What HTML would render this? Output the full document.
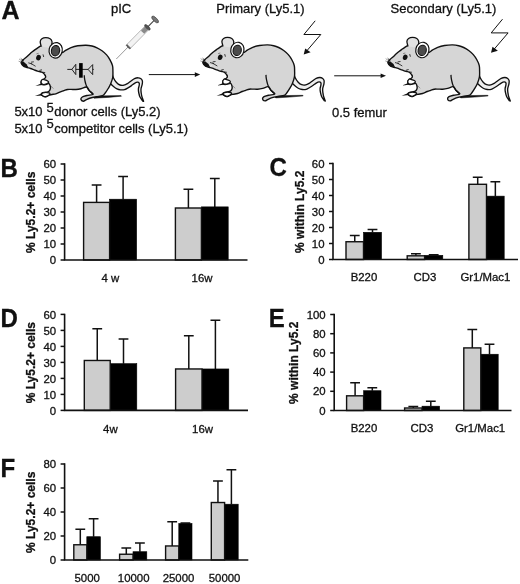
<!DOCTYPE html>
<html><head><meta charset="utf-8"><title>figure</title>
<style>html,body{margin:0;padding:0;background:#fff}svg{display:block;filter:grayscale(1)}text{font-family:"Liberation Sans", sans-serif;fill:#111;stroke:#111;stroke-width:0.3px}</style>
</head><body>
<svg width="520" height="584" viewBox="0 0 520 584">
<rect width="520" height="584" fill="#fff"/>
<text x="1.4" y="19.1" font-size="25" font-weight="bold">A</text>
<text x="111" y="12.6" font-size="13">pIC</text>
<text x="216.3" y="12.6" font-size="13">Primary (Ly5.1)</text>
<text x="390.6" y="12.6" font-size="13">Secondary (Ly5.1)</text>
<text x="14.4" y="116.4" font-size="13">5x10</text>
<text x="46.6" y="111.7" font-size="13">5</text>
<text x="54.2" y="116.4" font-size="13">donor cells (Ly5.2)</text>
<text x="14.4" y="132.6" font-size="13">5x10</text>
<text x="46.6" y="128.2" font-size="13">5</text>
<text x="54.2" y="132.6" font-size="13">competitor cells (Ly5.1)</text>
<text x="332" y="116.8" font-size="13">0.5 femur</text>
<g><path d="M111.50 72.00 C111.83 73.00 112.67 76.25 113.50 78.00 C114.33 79.75 115.42 81.33 116.50 82.50 C117.58 83.67 118.75 84.55 120.00 85.00 C121.25 85.45 122.75 85.43 124.00 85.20 C125.25 84.97 126.33 84.30 127.50 83.60 C128.67 82.90 129.83 81.83 131.00 81.00 C132.17 80.17 133.30 79.13 134.50 78.60 C135.70 78.07 137.12 77.77 138.20 77.80 C139.28 77.83 140.30 78.27 141.00 78.80 C141.70 79.33 142.20 80.07 142.40 81.00 C142.60 81.93 142.43 83.07 142.20 84.40 C141.97 85.73 141.17 87.57 141.00 89.00 C140.83 90.43 141.03 91.67 141.20 93.00 C141.37 94.33 141.60 95.62 142.00 97.00 C142.40 98.38 143.33 100.58 143.60 101.30 L142.60 101.00 C142.17 100.33 140.63 98.33 140.00 97.00 C139.37 95.67 139.07 94.33 138.80 93.00 C138.53 91.67 138.33 90.27 138.40 89.00 C138.47 87.73 139.07 86.37 139.20 85.40 C139.33 84.43 139.50 83.73 139.20 83.20 C138.90 82.67 138.18 82.17 137.40 82.20 C136.62 82.23 135.48 82.83 134.50 83.40 C133.52 83.97 132.58 84.87 131.50 85.60 C130.42 86.33 129.17 87.13 128.00 87.80 C126.83 88.47 125.75 89.27 124.50 89.60 C123.25 89.93 121.75 89.93 120.50 89.80 C119.25 89.67 118.17 89.37 117.00 88.80 C115.83 88.23 114.67 87.37 113.50 86.40 C112.33 85.43 110.75 84.07 110.00 83.00 C109.25 81.93 109.17 80.50 109.00 80.00Z" fill="#ededed" stroke="#111" stroke-width="1.35" stroke-linejoin="round"/>
<path d="M92 96.0 L121 95.6 L121.5 96.2 L108 97.4 L94 98.2 Z" fill="#111" stroke="#111" stroke-width="0.5"/>
<path d="M21.20 62.40 C21.44 61.43 22.53 60.59 23.50 59.60 C24.47 58.61 25.44 57.95 26.50 57.00 C27.56 56.05 28.24 55.35 29.30 54.40 C30.36 53.45 31.22 52.68 32.30 51.80 C33.38 50.92 34.14 50.37 35.20 49.60 C36.26 48.83 37.04 48.28 38.10 47.60 C39.16 46.92 39.73 46.41 41.00 45.90 C42.27 45.39 43.53 45.07 45.00 44.80 C46.47 44.52 47.53 44.44 49.00 44.40 C50.47 44.36 51.35 44.12 53.00 44.60 C54.65 45.08 56.44 45.73 58.00 47.00 C59.56 48.27 60.66 50.47 61.50 51.50 C62.34 52.53 61.77 52.84 62.60 52.60 C63.43 52.36 64.46 51.12 66.00 50.20 C67.54 49.28 68.84 48.41 71.00 47.60 C73.16 46.79 75.05 46.24 77.80 45.80 C80.55 45.36 83.40 45.16 86.00 45.20 C88.60 45.24 89.98 45.52 92.00 46.00 C94.02 46.48 95.17 46.92 97.00 47.80 C98.83 48.68 100.24 49.50 102.00 50.80 C103.76 52.10 105.13 53.25 106.60 54.90 C108.07 56.55 108.92 57.84 110.00 59.80 C111.08 61.76 111.97 63.53 112.50 65.60 C113.03 67.67 112.86 68.92 112.90 71.10 C112.94 73.28 113.12 75.14 112.70 77.50 C112.28 79.86 111.42 81.98 110.60 84.00 C109.77 86.02 109.19 86.85 108.20 88.50 C107.21 90.15 106.25 91.70 105.20 93.00 C104.16 94.30 104.13 94.92 102.50 95.60 C100.87 96.28 98.50 96.26 96.30 96.70 C94.10 97.14 92.39 97.41 90.50 98.00 C88.61 98.59 87.32 99.31 86.00 99.90 C84.68 100.49 84.23 101.29 83.30 101.20 C82.36 101.11 81.08 100.17 80.90 99.40 C80.72 98.63 81.20 97.72 82.30 97.00 C83.40 96.28 84.94 96.00 86.90 95.50 C88.86 95.00 92.56 95.20 93.00 94.30 C93.44 93.40 90.47 91.94 89.30 90.60 C88.13 89.26 88.12 87.35 86.60 87.00 C85.08 86.65 82.94 88.24 81.00 88.70 C79.06 89.16 77.83 89.37 76.00 89.50 C74.17 89.63 72.56 89.40 71.00 89.40 C69.44 89.40 68.78 89.28 67.50 89.50 C66.22 89.72 65.28 90.18 64.00 90.60 C62.72 91.02 62.00 91.21 60.50 91.80 C59.00 92.39 57.36 93.30 55.80 93.80 C54.24 94.30 53.25 94.26 52.00 94.50 C50.75 94.74 49.95 94.75 49.00 95.10 C48.05 95.45 47.53 96.07 46.80 96.40 C46.07 96.73 45.73 96.97 45.00 96.90 C44.27 96.83 43.50 96.46 42.80 96.00 C42.10 95.54 41.27 94.97 41.20 94.40 C41.13 93.83 41.57 93.29 42.40 92.90 C43.23 92.52 44.49 92.61 45.70 92.30 C46.91 91.99 48.14 91.88 49.00 91.20 C49.86 90.52 50.18 89.55 50.40 88.60 C50.62 87.65 50.46 86.92 50.20 86.00 C49.94 85.08 49.66 83.93 49.00 83.60 C48.34 83.27 47.59 83.96 46.60 84.20 C45.61 84.44 44.52 84.88 43.60 84.90 C42.68 84.92 42.08 84.80 41.60 84.30 C41.12 83.80 40.89 82.99 41.00 82.20 C41.11 81.41 41.61 80.62 42.20 80.00 C42.79 79.38 43.58 79.28 44.20 78.80 C44.82 78.32 45.42 78.02 45.60 77.40 C45.78 76.78 45.64 76.21 45.20 75.40 C44.76 74.59 43.97 73.62 43.20 73.00 C42.43 72.38 42.05 72.35 41.00 72.00 C39.95 71.65 38.75 71.48 37.50 71.10 C36.25 70.71 35.48 70.38 34.20 69.90 C32.92 69.42 31.73 68.92 30.50 68.50 C29.27 68.08 28.66 67.95 27.50 67.60 C26.34 67.25 25.17 67.09 24.20 66.60 C23.23 66.10 22.75 65.67 22.20 64.90 C21.65 64.13 20.96 63.37 21.20 62.40Z" fill="#d6d6d6" stroke="#111" stroke-width="1.4" stroke-linejoin="round"/>
<path d="M41.30 46.60 C41.12 45.78 40.10 43.00 40.20 41.70 C40.30 40.40 40.97 39.47 41.90 38.80 C42.83 38.13 44.43 37.70 45.80 37.70 C47.17 37.70 49.07 38.13 50.10 38.80 C51.13 39.47 51.75 40.58 52.00 41.70 C52.25 42.82 51.85 44.45 51.60 45.50 C51.35 46.55 50.68 47.58 50.50 48.00" fill="#e2e2e2" stroke="none"/>
<path d="M41.30 46.60 C41.12 45.78 40.10 43.00 40.20 41.70 C40.30 40.40 40.97 39.47 41.90 38.80 C42.83 38.13 44.43 37.70 45.80 37.70 C47.17 37.70 49.07 38.13 50.10 38.80 C51.13 39.47 51.75 40.58 52.00 41.70 C52.25 42.82 51.85 44.45 51.60 45.50 C51.35 46.55 50.68 47.58 50.50 48.00" fill="none" stroke="#111" stroke-width="1.3"/>
<path d="M41.6 83.2 L35.4 85.9 L42.2 85.0 Z" fill="#111"/>
<path d="M41.6 93.4 L34.9 96.0 L42.4 95.4 Z" fill="#111"/>
<path d="M42.30 79.50 C42.95 79.10 44.12 79.67 45.00 79.90 C45.88 80.13 46.98 80.50 47.60 80.90 C48.22 81.30 48.87 81.82 48.70 82.30 C48.53 82.78 47.57 83.45 46.60 83.80 C45.63 84.15 43.82 84.65 42.90 84.40 C41.98 84.15 41.20 83.12 41.10 82.30 C41.00 81.48 41.65 79.90 42.30 79.50Z" fill="#fff" stroke="#111" stroke-width="1.2" stroke-linejoin="round"/>
<path d="M45.70 92.50 C46.73 92.50 48.32 92.60 49.00 92.90 C49.68 93.20 50.35 93.68 49.80 94.30 C49.25 94.92 46.87 96.37 45.70 96.60 C44.53 96.83 43.52 96.08 42.80 95.70 C42.08 95.32 41.40 94.77 41.40 94.30 C41.40 93.83 42.08 93.20 42.80 92.90 C43.52 92.60 44.67 92.50 45.70 92.50Z" fill="#fff" stroke="#111" stroke-width="1.2" stroke-linejoin="round"/>
<path d="M84.30 75.20 C84.32 75.58 84.28 76.53 84.40 77.50 C84.52 78.47 84.75 79.85 85.00 81.00 C85.25 82.15 85.53 83.30 85.90 84.40 C86.27 85.50 86.65 86.57 87.20 87.60 C87.75 88.63 88.47 89.70 89.20 90.60 C89.93 91.50 90.90 92.37 91.60 93.00 C92.30 93.63 93.10 94.17 93.40 94.40" fill="none" stroke="#111" stroke-width="1.3"/>
<path d="M50.4 85.5 L53.4 88.6" fill="none" stroke="#555" stroke-width="0.6"/>
<ellipse cx="55.7" cy="50.3" rx="6.6" ry="7.8" transform="rotate(12 55.7 50.3)" fill="#fff" stroke="#111" stroke-width="1.2"/>
<ellipse cx="55.5" cy="50.7" rx="4.1" ry="5.2" transform="rotate(12 55.5 50.7)" fill="#4c4c4c" stroke="#111" stroke-width="1.1"/>
<ellipse cx="38.5" cy="57.6" rx="2.3" ry="2.8" transform="rotate(20 38.5 57.6)" fill="#111"/>
<path d="M43.0 54.4 L43.7 57.0" stroke="#111" stroke-width="0.8" fill="none"/>
<path d="M36.4 53.9 L38.6 53.3" stroke="#333" stroke-width="0.5" fill="none"/>
<path d="M20.6 62.0 L23.4 61.6 L26.8 64.4 L28.4 67.4 L24.4 66.8 L22.0 65.0Z" fill="#111"/>
<path d="M28.3 62.8 L32.2 64.0 M30.8 63.4 L35.6 66.3 M31.0 62.2 L33.8 61.8" stroke="#111" stroke-width="0.8" fill="none"/>
<path d="M27.4 65.0 L30.4 66.0" stroke="#eee" stroke-width="0.8" fill="none"/>
<path d="M19.0 58.9 L22.4 61.4 M20.6 58.2 L23.4 60.8 M18.6 61.2 L21.4 62.2" stroke="#555" stroke-width="0.55" fill="none"/>
<path d="M21.6 58.6 L23.8 61.0 L22.2 61.4 Z" fill="#111"/>
<path d="M39.5 70.4 L42.0 69.8 M42.4 72.2 L45.2 72.6 M44.2 74.6 L46.0 75.8" stroke="#111" stroke-width="0.8" fill="none"/></g>
<g transform="translate(181.7 -0.3)"><path d="M111.50 72.00 C111.83 73.00 112.67 76.25 113.50 78.00 C114.33 79.75 115.42 81.33 116.50 82.50 C117.58 83.67 118.75 84.55 120.00 85.00 C121.25 85.45 122.75 85.43 124.00 85.20 C125.25 84.97 126.33 84.30 127.50 83.60 C128.67 82.90 129.83 81.83 131.00 81.00 C132.17 80.17 133.30 79.13 134.50 78.60 C135.70 78.07 137.12 77.77 138.20 77.80 C139.28 77.83 140.30 78.27 141.00 78.80 C141.70 79.33 142.20 80.07 142.40 81.00 C142.60 81.93 142.43 83.07 142.20 84.40 C141.97 85.73 141.17 87.57 141.00 89.00 C140.83 90.43 141.03 91.67 141.20 93.00 C141.37 94.33 141.60 95.62 142.00 97.00 C142.40 98.38 143.33 100.58 143.60 101.30 L142.60 101.00 C142.17 100.33 140.63 98.33 140.00 97.00 C139.37 95.67 139.07 94.33 138.80 93.00 C138.53 91.67 138.33 90.27 138.40 89.00 C138.47 87.73 139.07 86.37 139.20 85.40 C139.33 84.43 139.50 83.73 139.20 83.20 C138.90 82.67 138.18 82.17 137.40 82.20 C136.62 82.23 135.48 82.83 134.50 83.40 C133.52 83.97 132.58 84.87 131.50 85.60 C130.42 86.33 129.17 87.13 128.00 87.80 C126.83 88.47 125.75 89.27 124.50 89.60 C123.25 89.93 121.75 89.93 120.50 89.80 C119.25 89.67 118.17 89.37 117.00 88.80 C115.83 88.23 114.67 87.37 113.50 86.40 C112.33 85.43 110.75 84.07 110.00 83.00 C109.25 81.93 109.17 80.50 109.00 80.00Z" fill="#ededed" stroke="#111" stroke-width="1.35" stroke-linejoin="round"/>
<path d="M92 96.0 L121 95.6 L121.5 96.2 L108 97.4 L94 98.2 Z" fill="#111" stroke="#111" stroke-width="0.5"/>
<path d="M21.20 62.40 C21.44 61.43 22.53 60.59 23.50 59.60 C24.47 58.61 25.44 57.95 26.50 57.00 C27.56 56.05 28.24 55.35 29.30 54.40 C30.36 53.45 31.22 52.68 32.30 51.80 C33.38 50.92 34.14 50.37 35.20 49.60 C36.26 48.83 37.04 48.28 38.10 47.60 C39.16 46.92 39.73 46.41 41.00 45.90 C42.27 45.39 43.53 45.07 45.00 44.80 C46.47 44.52 47.53 44.44 49.00 44.40 C50.47 44.36 51.35 44.12 53.00 44.60 C54.65 45.08 56.44 45.73 58.00 47.00 C59.56 48.27 60.66 50.47 61.50 51.50 C62.34 52.53 61.77 52.84 62.60 52.60 C63.43 52.36 64.46 51.12 66.00 50.20 C67.54 49.28 68.84 48.41 71.00 47.60 C73.16 46.79 75.05 46.24 77.80 45.80 C80.55 45.36 83.40 45.16 86.00 45.20 C88.60 45.24 89.98 45.52 92.00 46.00 C94.02 46.48 95.17 46.92 97.00 47.80 C98.83 48.68 100.24 49.50 102.00 50.80 C103.76 52.10 105.13 53.25 106.60 54.90 C108.07 56.55 108.92 57.84 110.00 59.80 C111.08 61.76 111.97 63.53 112.50 65.60 C113.03 67.67 112.86 68.92 112.90 71.10 C112.94 73.28 113.12 75.14 112.70 77.50 C112.28 79.86 111.42 81.98 110.60 84.00 C109.77 86.02 109.19 86.85 108.20 88.50 C107.21 90.15 106.25 91.70 105.20 93.00 C104.16 94.30 104.13 94.92 102.50 95.60 C100.87 96.28 98.50 96.26 96.30 96.70 C94.10 97.14 92.39 97.41 90.50 98.00 C88.61 98.59 87.32 99.31 86.00 99.90 C84.68 100.49 84.23 101.29 83.30 101.20 C82.36 101.11 81.08 100.17 80.90 99.40 C80.72 98.63 81.20 97.72 82.30 97.00 C83.40 96.28 84.94 96.00 86.90 95.50 C88.86 95.00 92.56 95.20 93.00 94.30 C93.44 93.40 90.47 91.94 89.30 90.60 C88.13 89.26 88.12 87.35 86.60 87.00 C85.08 86.65 82.94 88.24 81.00 88.70 C79.06 89.16 77.83 89.37 76.00 89.50 C74.17 89.63 72.56 89.40 71.00 89.40 C69.44 89.40 68.78 89.28 67.50 89.50 C66.22 89.72 65.28 90.18 64.00 90.60 C62.72 91.02 62.00 91.21 60.50 91.80 C59.00 92.39 57.36 93.30 55.80 93.80 C54.24 94.30 53.25 94.26 52.00 94.50 C50.75 94.74 49.95 94.75 49.00 95.10 C48.05 95.45 47.53 96.07 46.80 96.40 C46.07 96.73 45.73 96.97 45.00 96.90 C44.27 96.83 43.50 96.46 42.80 96.00 C42.10 95.54 41.27 94.97 41.20 94.40 C41.13 93.83 41.57 93.29 42.40 92.90 C43.23 92.52 44.49 92.61 45.70 92.30 C46.91 91.99 48.14 91.88 49.00 91.20 C49.86 90.52 50.18 89.55 50.40 88.60 C50.62 87.65 50.46 86.92 50.20 86.00 C49.94 85.08 49.66 83.93 49.00 83.60 C48.34 83.27 47.59 83.96 46.60 84.20 C45.61 84.44 44.52 84.88 43.60 84.90 C42.68 84.92 42.08 84.80 41.60 84.30 C41.12 83.80 40.89 82.99 41.00 82.20 C41.11 81.41 41.61 80.62 42.20 80.00 C42.79 79.38 43.58 79.28 44.20 78.80 C44.82 78.32 45.42 78.02 45.60 77.40 C45.78 76.78 45.64 76.21 45.20 75.40 C44.76 74.59 43.97 73.62 43.20 73.00 C42.43 72.38 42.05 72.35 41.00 72.00 C39.95 71.65 38.75 71.48 37.50 71.10 C36.25 70.71 35.48 70.38 34.20 69.90 C32.92 69.42 31.73 68.92 30.50 68.50 C29.27 68.08 28.66 67.95 27.50 67.60 C26.34 67.25 25.17 67.09 24.20 66.60 C23.23 66.10 22.75 65.67 22.20 64.90 C21.65 64.13 20.96 63.37 21.20 62.40Z" fill="#d6d6d6" stroke="#111" stroke-width="1.4" stroke-linejoin="round"/>
<path d="M41.30 46.60 C41.12 45.78 40.10 43.00 40.20 41.70 C40.30 40.40 40.97 39.47 41.90 38.80 C42.83 38.13 44.43 37.70 45.80 37.70 C47.17 37.70 49.07 38.13 50.10 38.80 C51.13 39.47 51.75 40.58 52.00 41.70 C52.25 42.82 51.85 44.45 51.60 45.50 C51.35 46.55 50.68 47.58 50.50 48.00" fill="#e2e2e2" stroke="none"/>
<path d="M41.30 46.60 C41.12 45.78 40.10 43.00 40.20 41.70 C40.30 40.40 40.97 39.47 41.90 38.80 C42.83 38.13 44.43 37.70 45.80 37.70 C47.17 37.70 49.07 38.13 50.10 38.80 C51.13 39.47 51.75 40.58 52.00 41.70 C52.25 42.82 51.85 44.45 51.60 45.50 C51.35 46.55 50.68 47.58 50.50 48.00" fill="none" stroke="#111" stroke-width="1.3"/>
<path d="M41.6 83.2 L35.4 85.9 L42.2 85.0 Z" fill="#111"/>
<path d="M41.6 93.4 L34.9 96.0 L42.4 95.4 Z" fill="#111"/>
<path d="M42.30 79.50 C42.95 79.10 44.12 79.67 45.00 79.90 C45.88 80.13 46.98 80.50 47.60 80.90 C48.22 81.30 48.87 81.82 48.70 82.30 C48.53 82.78 47.57 83.45 46.60 83.80 C45.63 84.15 43.82 84.65 42.90 84.40 C41.98 84.15 41.20 83.12 41.10 82.30 C41.00 81.48 41.65 79.90 42.30 79.50Z" fill="#fff" stroke="#111" stroke-width="1.2" stroke-linejoin="round"/>
<path d="M45.70 92.50 C46.73 92.50 48.32 92.60 49.00 92.90 C49.68 93.20 50.35 93.68 49.80 94.30 C49.25 94.92 46.87 96.37 45.70 96.60 C44.53 96.83 43.52 96.08 42.80 95.70 C42.08 95.32 41.40 94.77 41.40 94.30 C41.40 93.83 42.08 93.20 42.80 92.90 C43.52 92.60 44.67 92.50 45.70 92.50Z" fill="#fff" stroke="#111" stroke-width="1.2" stroke-linejoin="round"/>
<path d="M84.30 75.20 C84.32 75.58 84.28 76.53 84.40 77.50 C84.52 78.47 84.75 79.85 85.00 81.00 C85.25 82.15 85.53 83.30 85.90 84.40 C86.27 85.50 86.65 86.57 87.20 87.60 C87.75 88.63 88.47 89.70 89.20 90.60 C89.93 91.50 90.90 92.37 91.60 93.00 C92.30 93.63 93.10 94.17 93.40 94.40" fill="none" stroke="#111" stroke-width="1.3"/>
<path d="M50.4 85.5 L53.4 88.6" fill="none" stroke="#555" stroke-width="0.6"/>
<ellipse cx="55.7" cy="50.3" rx="6.6" ry="7.8" transform="rotate(12 55.7 50.3)" fill="#fff" stroke="#111" stroke-width="1.2"/>
<ellipse cx="55.5" cy="50.7" rx="4.1" ry="5.2" transform="rotate(12 55.5 50.7)" fill="#4c4c4c" stroke="#111" stroke-width="1.1"/>
<ellipse cx="38.5" cy="57.6" rx="2.3" ry="2.8" transform="rotate(20 38.5 57.6)" fill="#111"/>
<path d="M43.0 54.4 L43.7 57.0" stroke="#111" stroke-width="0.8" fill="none"/>
<path d="M36.4 53.9 L38.6 53.3" stroke="#333" stroke-width="0.5" fill="none"/>
<path d="M20.6 62.0 L23.4 61.6 L26.8 64.4 L28.4 67.4 L24.4 66.8 L22.0 65.0Z" fill="#111"/>
<path d="M28.3 62.8 L32.2 64.0 M30.8 63.4 L35.6 66.3 M31.0 62.2 L33.8 61.8" stroke="#111" stroke-width="0.8" fill="none"/>
<path d="M27.4 65.0 L30.4 66.0" stroke="#eee" stroke-width="0.8" fill="none"/>
<path d="M19.0 58.9 L22.4 61.4 M20.6 58.2 L23.4 60.8 M18.6 61.2 L21.4 62.2" stroke="#555" stroke-width="0.55" fill="none"/>
<path d="M21.6 58.6 L23.8 61.0 L22.2 61.4 Z" fill="#111"/>
<path d="M39.5 70.4 L42.0 69.8 M42.4 72.2 L45.2 72.6 M44.2 74.6 L46.0 75.8" stroke="#111" stroke-width="0.8" fill="none"/></g>
<g transform="translate(366.7 -0.3)"><path d="M111.50 72.00 C111.83 73.00 112.67 76.25 113.50 78.00 C114.33 79.75 115.42 81.33 116.50 82.50 C117.58 83.67 118.75 84.55 120.00 85.00 C121.25 85.45 122.75 85.43 124.00 85.20 C125.25 84.97 126.33 84.30 127.50 83.60 C128.67 82.90 129.83 81.83 131.00 81.00 C132.17 80.17 133.30 79.13 134.50 78.60 C135.70 78.07 137.12 77.77 138.20 77.80 C139.28 77.83 140.30 78.27 141.00 78.80 C141.70 79.33 142.20 80.07 142.40 81.00 C142.60 81.93 142.43 83.07 142.20 84.40 C141.97 85.73 141.17 87.57 141.00 89.00 C140.83 90.43 141.03 91.67 141.20 93.00 C141.37 94.33 141.60 95.62 142.00 97.00 C142.40 98.38 143.33 100.58 143.60 101.30 L142.60 101.00 C142.17 100.33 140.63 98.33 140.00 97.00 C139.37 95.67 139.07 94.33 138.80 93.00 C138.53 91.67 138.33 90.27 138.40 89.00 C138.47 87.73 139.07 86.37 139.20 85.40 C139.33 84.43 139.50 83.73 139.20 83.20 C138.90 82.67 138.18 82.17 137.40 82.20 C136.62 82.23 135.48 82.83 134.50 83.40 C133.52 83.97 132.58 84.87 131.50 85.60 C130.42 86.33 129.17 87.13 128.00 87.80 C126.83 88.47 125.75 89.27 124.50 89.60 C123.25 89.93 121.75 89.93 120.50 89.80 C119.25 89.67 118.17 89.37 117.00 88.80 C115.83 88.23 114.67 87.37 113.50 86.40 C112.33 85.43 110.75 84.07 110.00 83.00 C109.25 81.93 109.17 80.50 109.00 80.00Z" fill="#ededed" stroke="#111" stroke-width="1.35" stroke-linejoin="round"/>
<path d="M92 96.0 L121 95.6 L121.5 96.2 L108 97.4 L94 98.2 Z" fill="#111" stroke="#111" stroke-width="0.5"/>
<path d="M21.20 62.40 C21.44 61.43 22.53 60.59 23.50 59.60 C24.47 58.61 25.44 57.95 26.50 57.00 C27.56 56.05 28.24 55.35 29.30 54.40 C30.36 53.45 31.22 52.68 32.30 51.80 C33.38 50.92 34.14 50.37 35.20 49.60 C36.26 48.83 37.04 48.28 38.10 47.60 C39.16 46.92 39.73 46.41 41.00 45.90 C42.27 45.39 43.53 45.07 45.00 44.80 C46.47 44.52 47.53 44.44 49.00 44.40 C50.47 44.36 51.35 44.12 53.00 44.60 C54.65 45.08 56.44 45.73 58.00 47.00 C59.56 48.27 60.66 50.47 61.50 51.50 C62.34 52.53 61.77 52.84 62.60 52.60 C63.43 52.36 64.46 51.12 66.00 50.20 C67.54 49.28 68.84 48.41 71.00 47.60 C73.16 46.79 75.05 46.24 77.80 45.80 C80.55 45.36 83.40 45.16 86.00 45.20 C88.60 45.24 89.98 45.52 92.00 46.00 C94.02 46.48 95.17 46.92 97.00 47.80 C98.83 48.68 100.24 49.50 102.00 50.80 C103.76 52.10 105.13 53.25 106.60 54.90 C108.07 56.55 108.92 57.84 110.00 59.80 C111.08 61.76 111.97 63.53 112.50 65.60 C113.03 67.67 112.86 68.92 112.90 71.10 C112.94 73.28 113.12 75.14 112.70 77.50 C112.28 79.86 111.42 81.98 110.60 84.00 C109.77 86.02 109.19 86.85 108.20 88.50 C107.21 90.15 106.25 91.70 105.20 93.00 C104.16 94.30 104.13 94.92 102.50 95.60 C100.87 96.28 98.50 96.26 96.30 96.70 C94.10 97.14 92.39 97.41 90.50 98.00 C88.61 98.59 87.32 99.31 86.00 99.90 C84.68 100.49 84.23 101.29 83.30 101.20 C82.36 101.11 81.08 100.17 80.90 99.40 C80.72 98.63 81.20 97.72 82.30 97.00 C83.40 96.28 84.94 96.00 86.90 95.50 C88.86 95.00 92.56 95.20 93.00 94.30 C93.44 93.40 90.47 91.94 89.30 90.60 C88.13 89.26 88.12 87.35 86.60 87.00 C85.08 86.65 82.94 88.24 81.00 88.70 C79.06 89.16 77.83 89.37 76.00 89.50 C74.17 89.63 72.56 89.40 71.00 89.40 C69.44 89.40 68.78 89.28 67.50 89.50 C66.22 89.72 65.28 90.18 64.00 90.60 C62.72 91.02 62.00 91.21 60.50 91.80 C59.00 92.39 57.36 93.30 55.80 93.80 C54.24 94.30 53.25 94.26 52.00 94.50 C50.75 94.74 49.95 94.75 49.00 95.10 C48.05 95.45 47.53 96.07 46.80 96.40 C46.07 96.73 45.73 96.97 45.00 96.90 C44.27 96.83 43.50 96.46 42.80 96.00 C42.10 95.54 41.27 94.97 41.20 94.40 C41.13 93.83 41.57 93.29 42.40 92.90 C43.23 92.52 44.49 92.61 45.70 92.30 C46.91 91.99 48.14 91.88 49.00 91.20 C49.86 90.52 50.18 89.55 50.40 88.60 C50.62 87.65 50.46 86.92 50.20 86.00 C49.94 85.08 49.66 83.93 49.00 83.60 C48.34 83.27 47.59 83.96 46.60 84.20 C45.61 84.44 44.52 84.88 43.60 84.90 C42.68 84.92 42.08 84.80 41.60 84.30 C41.12 83.80 40.89 82.99 41.00 82.20 C41.11 81.41 41.61 80.62 42.20 80.00 C42.79 79.38 43.58 79.28 44.20 78.80 C44.82 78.32 45.42 78.02 45.60 77.40 C45.78 76.78 45.64 76.21 45.20 75.40 C44.76 74.59 43.97 73.62 43.20 73.00 C42.43 72.38 42.05 72.35 41.00 72.00 C39.95 71.65 38.75 71.48 37.50 71.10 C36.25 70.71 35.48 70.38 34.20 69.90 C32.92 69.42 31.73 68.92 30.50 68.50 C29.27 68.08 28.66 67.95 27.50 67.60 C26.34 67.25 25.17 67.09 24.20 66.60 C23.23 66.10 22.75 65.67 22.20 64.90 C21.65 64.13 20.96 63.37 21.20 62.40Z" fill="#d6d6d6" stroke="#111" stroke-width="1.4" stroke-linejoin="round"/>
<path d="M41.30 46.60 C41.12 45.78 40.10 43.00 40.20 41.70 C40.30 40.40 40.97 39.47 41.90 38.80 C42.83 38.13 44.43 37.70 45.80 37.70 C47.17 37.70 49.07 38.13 50.10 38.80 C51.13 39.47 51.75 40.58 52.00 41.70 C52.25 42.82 51.85 44.45 51.60 45.50 C51.35 46.55 50.68 47.58 50.50 48.00" fill="#e2e2e2" stroke="none"/>
<path d="M41.30 46.60 C41.12 45.78 40.10 43.00 40.20 41.70 C40.30 40.40 40.97 39.47 41.90 38.80 C42.83 38.13 44.43 37.70 45.80 37.70 C47.17 37.70 49.07 38.13 50.10 38.80 C51.13 39.47 51.75 40.58 52.00 41.70 C52.25 42.82 51.85 44.45 51.60 45.50 C51.35 46.55 50.68 47.58 50.50 48.00" fill="none" stroke="#111" stroke-width="1.3"/>
<path d="M41.6 83.2 L35.4 85.9 L42.2 85.0 Z" fill="#111"/>
<path d="M41.6 93.4 L34.9 96.0 L42.4 95.4 Z" fill="#111"/>
<path d="M42.30 79.50 C42.95 79.10 44.12 79.67 45.00 79.90 C45.88 80.13 46.98 80.50 47.60 80.90 C48.22 81.30 48.87 81.82 48.70 82.30 C48.53 82.78 47.57 83.45 46.60 83.80 C45.63 84.15 43.82 84.65 42.90 84.40 C41.98 84.15 41.20 83.12 41.10 82.30 C41.00 81.48 41.65 79.90 42.30 79.50Z" fill="#fff" stroke="#111" stroke-width="1.2" stroke-linejoin="round"/>
<path d="M45.70 92.50 C46.73 92.50 48.32 92.60 49.00 92.90 C49.68 93.20 50.35 93.68 49.80 94.30 C49.25 94.92 46.87 96.37 45.70 96.60 C44.53 96.83 43.52 96.08 42.80 95.70 C42.08 95.32 41.40 94.77 41.40 94.30 C41.40 93.83 42.08 93.20 42.80 92.90 C43.52 92.60 44.67 92.50 45.70 92.50Z" fill="#fff" stroke="#111" stroke-width="1.2" stroke-linejoin="round"/>
<path d="M84.30 75.20 C84.32 75.58 84.28 76.53 84.40 77.50 C84.52 78.47 84.75 79.85 85.00 81.00 C85.25 82.15 85.53 83.30 85.90 84.40 C86.27 85.50 86.65 86.57 87.20 87.60 C87.75 88.63 88.47 89.70 89.20 90.60 C89.93 91.50 90.90 92.37 91.60 93.00 C92.30 93.63 93.10 94.17 93.40 94.40" fill="none" stroke="#111" stroke-width="1.3"/>
<path d="M50.4 85.5 L53.4 88.6" fill="none" stroke="#555" stroke-width="0.6"/>
<ellipse cx="55.7" cy="50.3" rx="6.6" ry="7.8" transform="rotate(12 55.7 50.3)" fill="#fff" stroke="#111" stroke-width="1.2"/>
<ellipse cx="55.5" cy="50.7" rx="4.1" ry="5.2" transform="rotate(12 55.5 50.7)" fill="#4c4c4c" stroke="#111" stroke-width="1.1"/>
<ellipse cx="38.5" cy="57.6" rx="2.3" ry="2.8" transform="rotate(20 38.5 57.6)" fill="#111"/>
<path d="M43.0 54.4 L43.7 57.0" stroke="#111" stroke-width="0.8" fill="none"/>
<path d="M36.4 53.9 L38.6 53.3" stroke="#333" stroke-width="0.5" fill="none"/>
<path d="M20.6 62.0 L23.4 61.6 L26.8 64.4 L28.4 67.4 L24.4 66.8 L22.0 65.0Z" fill="#111"/>
<path d="M28.3 62.8 L32.2 64.0 M30.8 63.4 L35.6 66.3 M31.0 62.2 L33.8 61.8" stroke="#111" stroke-width="0.8" fill="none"/>
<path d="M27.4 65.0 L30.4 66.0" stroke="#eee" stroke-width="0.8" fill="none"/>
<path d="M19.0 58.9 L22.4 61.4 M20.6 58.2 L23.4 60.8 M18.6 61.2 L21.4 62.2" stroke="#555" stroke-width="0.55" fill="none"/>
<path d="M21.6 58.6 L23.8 61.0 L22.2 61.4 Z" fill="#111"/>
<path d="M39.5 70.4 L42.0 69.8 M42.4 72.2 L45.2 72.6 M44.2 74.6 L46.0 75.8" stroke="#111" stroke-width="0.8" fill="none"/></g>
<path d="M67.3 69.4 H93.8" stroke="#111" stroke-width="0.9"/>
<path d="M71.9 69.4 L75.8 64.3 V74.6 Z" fill="#d6d6d6" stroke="#111" stroke-width="0.9" stroke-linejoin="miter"/>
<path d="M88.1 69.4 L92.7 64.6 V74.6 Z" fill="#d6d6d6" stroke="#111" stroke-width="0.9" stroke-linejoin="miter"/>
<rect x="79.1" y="63.1" width="3.6" height="14.6" fill="#000"/>
<g transform="translate(116.3 59) rotate(-45.5)">
<path d="M0 0 H17" stroke="#888" stroke-width="0.8"/>
<rect x="16.5" y="-2.7" width="2" height="5.4" rx="1" fill="#555" stroke="#333" stroke-width="0.5"/>
<rect x="18" y="-2.6" width="25" height="5.2" rx="1" fill="#f3f3f3" stroke="#a0a0a0" stroke-width="0.7"/>
<rect x="37.5" y="-2.3" width="5.3" height="4.6" fill="#8a8a8a"/>
<ellipse cx="44.4" cy="0" rx="1.4" ry="3.6" fill="#555" stroke="#333" stroke-width="0.6"/>
<path d="M45 0 H54" stroke="#444" stroke-width="1.1"/>
<ellipse cx="55.4" cy="0" rx="1.8" ry="4.4" fill="#777" stroke="#444" stroke-width="0.7"/>
</g>
<path d="M148.8 74.6 H196" stroke="#111" stroke-width="1"/>
<path d="M200.2 74.6 L194.8 72.3 V76.9 Z" fill="#111"/>
<path d="M334.2 75.8 H382" stroke="#111" stroke-width="1"/>
<path d="M386 75.8 L380.6 73.5 V78.1 Z" fill="#111"/>
<path d="M315.20 20.80 L303.90 34.50 L320.80 34.50 L307.00 50.60" fill="none" stroke="#111" stroke-width="1"/><path d="M303.70 54.40 L305.20 48.40 L310.60 52.30 Z" fill="#111"/>
<path d="M502.50 19.20 L491.20 32.90 L508.10 32.90 L494.30 49.00" fill="none" stroke="#111" stroke-width="1"/><path d="M491.00 52.80 L492.50 46.80 L497.90 50.70 Z" fill="#111"/>
<path d="M96.60 202.40 V185.12 M91.70 185.12 H101.50" stroke="#111" stroke-width="1.5" fill="none"/>
<path d="M123.10 199.20 V176.48 M118.20 176.48 H128.00" stroke="#111" stroke-width="1.5" fill="none"/>
<rect x="109.60" y="199.20" width="27.00" height="60.80" fill="#000" stroke="#000" stroke-width="0.60"/>
<rect x="83.60" y="202.40" width="26.00" height="57.60" fill="#cdcdcd" stroke="#111" stroke-width="1.40"/>
<path d="M188.40 208.00 V189.28 M183.50 189.28 H193.30" stroke="#111" stroke-width="1.5" fill="none"/>
<path d="M214.80 206.88 V178.40 M209.90 178.40 H219.70" stroke="#111" stroke-width="1.5" fill="none"/>
<rect x="201.40" y="206.88" width="26.80" height="53.12" fill="#000" stroke="#000" stroke-width="0.60"/>
<rect x="175.40" y="208.00" width="26.00" height="52.00" fill="#cdcdcd" stroke="#111" stroke-width="1.40"/>
<path d="M64.60 163.30 V260.00 H247.50" stroke="#111" stroke-width="1.6" fill="none"/>
<path d="M60.60 260.00 H64.60" stroke="#111" stroke-width="1.5"/>
<text x="56.10" y="264.10" font-size="11.4" text-anchor="end">0</text>
<path d="M60.60 244.00 H64.60" stroke="#111" stroke-width="1.5"/>
<text x="56.10" y="248.10" font-size="11.4" text-anchor="end">10</text>
<path d="M60.60 228.00 H64.60" stroke="#111" stroke-width="1.5"/>
<text x="56.10" y="232.10" font-size="11.4" text-anchor="end">20</text>
<path d="M60.60 212.00 H64.60" stroke="#111" stroke-width="1.5"/>
<text x="56.10" y="216.10" font-size="11.4" text-anchor="end">30</text>
<path d="M60.60 196.00 H64.60" stroke="#111" stroke-width="1.5"/>
<text x="56.10" y="200.10" font-size="11.4" text-anchor="end">40</text>
<path d="M60.60 180.00 H64.60" stroke="#111" stroke-width="1.5"/>
<text x="56.10" y="184.10" font-size="11.4" text-anchor="end">50</text>
<path d="M60.60 164.00 H64.60" stroke="#111" stroke-width="1.5"/>
<text x="56.10" y="168.10" font-size="11.4" text-anchor="end">60</text>
<text x="110.40" y="281.80" font-size="11.4" text-anchor="middle">4 w</text>
<text x="202.00" y="281.80" font-size="11.4" text-anchor="middle">16w</text>
<text transform="translate(35.20 212.30) rotate(-90)" font-size="12" font-weight="bold" text-anchor="middle">% Ly5.2+ cells</text>
<text x="0.40" y="176.60" font-size="25.2" font-weight="bold" textLength="17.4" lengthAdjust="spacingAndGlyphs">B</text>
<path d="M354.75 241.74 V235.50 M349.85 235.50 H359.65" stroke="#111" stroke-width="1.5" fill="none"/>
<path d="M372.50 232.30 V229.58 M367.60 229.58 H377.40" stroke="#111" stroke-width="1.5" fill="none"/>
<rect x="363.50" y="232.30" width="18.00" height="27.20" fill="#000" stroke="#000" stroke-width="0.60"/>
<rect x="346.00" y="241.74" width="17.50" height="17.76" fill="#cdcdcd" stroke="#111" stroke-width="1.40"/>
<path d="M415.90 255.82 V253.74 M411.00 253.74 H420.80" stroke="#111" stroke-width="1.5" fill="none"/>
<path d="M433.70 255.34 V254.70 M428.80 254.70 H438.60" stroke="#111" stroke-width="1.5" fill="none"/>
<rect x="424.60" y="255.34" width="18.20" height="4.16" fill="#000" stroke="#000" stroke-width="0.60"/>
<rect x="407.20" y="255.82" width="17.40" height="3.68" fill="#cdcdcd" stroke="#111" stroke-width="1.40"/>
<path d="M477.70 184.30 V177.26 M472.80 177.26 H482.60" stroke="#111" stroke-width="1.5" fill="none"/>
<path d="M495.35 196.14 V181.74 M490.45 181.74 H500.25" stroke="#111" stroke-width="1.5" fill="none"/>
<rect x="486.50" y="196.14" width="17.70" height="63.36" fill="#000" stroke="#000" stroke-width="0.60"/>
<rect x="468.90" y="184.30" width="17.60" height="75.20" fill="#cdcdcd" stroke="#111" stroke-width="1.40"/>
<path d="M333.00 162.80 V259.50 H518.00" stroke="#111" stroke-width="1.6" fill="none"/>
<path d="M329.00 259.50 H333.00" stroke="#111" stroke-width="1.5"/>
<text x="324.50" y="263.60" font-size="11.4" text-anchor="end">0</text>
<path d="M329.00 243.50 H333.00" stroke="#111" stroke-width="1.5"/>
<text x="324.50" y="247.60" font-size="11.4" text-anchor="end">10</text>
<path d="M329.00 227.50 H333.00" stroke="#111" stroke-width="1.5"/>
<text x="324.50" y="231.60" font-size="11.4" text-anchor="end">20</text>
<path d="M329.00 211.50 H333.00" stroke="#111" stroke-width="1.5"/>
<text x="324.50" y="215.60" font-size="11.4" text-anchor="end">30</text>
<path d="M329.00 195.50 H333.00" stroke="#111" stroke-width="1.5"/>
<text x="324.50" y="199.60" font-size="11.4" text-anchor="end">40</text>
<path d="M329.00 179.50 H333.00" stroke="#111" stroke-width="1.5"/>
<text x="324.50" y="183.60" font-size="11.4" text-anchor="end">50</text>
<path d="M329.00 163.50 H333.00" stroke="#111" stroke-width="1.5"/>
<text x="324.50" y="167.60" font-size="11.4" text-anchor="end">60</text>
<text x="364.00" y="281.20" font-size="11.4" text-anchor="middle">B220</text>
<text x="425.00" y="281.20" font-size="11.4" text-anchor="middle">CD3</text>
<text x="485.40" y="281.20" font-size="11.4" text-anchor="middle">Gr1/Mac1</text>
<text transform="translate(304.20 211.80) rotate(-90)" font-size="12" font-weight="bold" text-anchor="middle">% within Ly5.2</text>
<text x="269.60" y="176.30" font-size="25.2" font-weight="bold" textLength="17.4" lengthAdjust="spacingAndGlyphs">C</text>
<path d="M97.25 360.48 V328.80 M92.35 328.80 H102.15" stroke="#111" stroke-width="1.5" fill="none"/>
<path d="M123.50 363.68 V339.04 M118.60 339.04 H128.40" stroke="#111" stroke-width="1.5" fill="none"/>
<rect x="110.20" y="363.68" width="26.60" height="46.72" fill="#000" stroke="#000" stroke-width="0.60"/>
<rect x="84.30" y="360.48" width="25.90" height="49.92" fill="#cdcdcd" stroke="#111" stroke-width="1.40"/>
<path d="M188.80 368.96 V335.68 M183.90 335.68 H193.70" stroke="#111" stroke-width="1.5" fill="none"/>
<path d="M215.40 368.96 V320.32 M210.50 320.32 H220.30" stroke="#111" stroke-width="1.5" fill="none"/>
<rect x="202.00" y="368.96" width="26.80" height="41.44" fill="#000" stroke="#000" stroke-width="0.60"/>
<rect x="175.60" y="368.96" width="26.40" height="41.44" fill="#cdcdcd" stroke="#111" stroke-width="1.40"/>
<path d="M64.60 313.70 V410.40 H248.00" stroke="#111" stroke-width="1.6" fill="none"/>
<path d="M60.60 410.40 H64.60" stroke="#111" stroke-width="1.5"/>
<text x="56.10" y="414.50" font-size="11.4" text-anchor="end">0</text>
<path d="M60.60 394.40 H64.60" stroke="#111" stroke-width="1.5"/>
<text x="56.10" y="398.50" font-size="11.4" text-anchor="end">10</text>
<path d="M60.60 378.40 H64.60" stroke="#111" stroke-width="1.5"/>
<text x="56.10" y="382.50" font-size="11.4" text-anchor="end">20</text>
<path d="M60.60 362.40 H64.60" stroke="#111" stroke-width="1.5"/>
<text x="56.10" y="366.50" font-size="11.4" text-anchor="end">30</text>
<path d="M60.60 346.40 H64.60" stroke="#111" stroke-width="1.5"/>
<text x="56.10" y="350.50" font-size="11.4" text-anchor="end">40</text>
<path d="M60.60 330.40 H64.60" stroke="#111" stroke-width="1.5"/>
<text x="56.10" y="334.50" font-size="11.4" text-anchor="end">50</text>
<path d="M60.60 314.40 H64.60" stroke="#111" stroke-width="1.5"/>
<text x="56.10" y="318.50" font-size="11.4" text-anchor="end">60</text>
<text x="110.40" y="432.60" font-size="11.4" text-anchor="middle">4w</text>
<text x="202.50" y="432.60" font-size="11.4" text-anchor="middle">16w</text>
<text transform="translate(35.20 362.70) rotate(-90)" font-size="12" font-weight="bold" text-anchor="middle">% Ly5.2+ cells</text>
<text x="0.40" y="326.80" font-size="25.2" font-weight="bold" textLength="17.4" lengthAdjust="spacingAndGlyphs">D</text>
<path d="M355.10 395.81 V382.85 M350.20 382.85 H360.00" stroke="#111" stroke-width="1.5" fill="none"/>
<path d="M372.30 390.72 V387.65 M367.40 387.65 H377.20" stroke="#111" stroke-width="1.5" fill="none"/>
<rect x="363.60" y="390.72" width="17.40" height="19.78" fill="#000" stroke="#000" stroke-width="0.60"/>
<rect x="346.60" y="395.81" width="17.00" height="14.69" fill="#cdcdcd" stroke="#111" stroke-width="1.40"/>
<path d="M413.30 408.00 V406.56 M408.40 406.56 H418.20" stroke="#111" stroke-width="1.5" fill="none"/>
<path d="M430.80 406.18 V401.28 M425.90 401.28 H435.70" stroke="#111" stroke-width="1.5" fill="none"/>
<rect x="422.00" y="406.18" width="17.60" height="4.32" fill="#000" stroke="#000" stroke-width="0.60"/>
<rect x="404.60" y="408.00" width="17.40" height="2.50" fill="#cdcdcd" stroke="#111" stroke-width="1.40"/>
<path d="M472.30 347.91 V329.48 M467.40 329.48 H477.20" stroke="#111" stroke-width="1.5" fill="none"/>
<path d="M489.50 354.24 V344.36 M484.60 344.36 H494.40" stroke="#111" stroke-width="1.5" fill="none"/>
<rect x="480.80" y="354.24" width="17.40" height="56.26" fill="#000" stroke="#000" stroke-width="0.60"/>
<rect x="463.80" y="347.91" width="17.00" height="62.59" fill="#cdcdcd" stroke="#111" stroke-width="1.40"/>
<path d="M334.20 313.80 V410.50 H511.50" stroke="#111" stroke-width="1.6" fill="none"/>
<path d="M330.20 410.50 H334.20" stroke="#111" stroke-width="1.5"/>
<text x="325.70" y="414.60" font-size="11.4" text-anchor="end">0</text>
<path d="M330.20 391.30 H334.20" stroke="#111" stroke-width="1.5"/>
<text x="325.70" y="395.40" font-size="11.4" text-anchor="end">20</text>
<path d="M330.20 372.10 H334.20" stroke="#111" stroke-width="1.5"/>
<text x="325.70" y="376.20" font-size="11.4" text-anchor="end">40</text>
<path d="M330.20 352.90 H334.20" stroke="#111" stroke-width="1.5"/>
<text x="325.70" y="357.00" font-size="11.4" text-anchor="end">60</text>
<path d="M330.20 333.70 H334.20" stroke="#111" stroke-width="1.5"/>
<text x="325.70" y="337.80" font-size="11.4" text-anchor="end">80</text>
<path d="M330.20 314.50 H334.20" stroke="#111" stroke-width="1.5"/>
<text x="325.70" y="318.60" font-size="11.4" text-anchor="end">100</text>
<text x="364.00" y="432.20" font-size="11.4" text-anchor="middle">B220</text>
<text x="422.00" y="432.20" font-size="11.4" text-anchor="middle">CD3</text>
<text x="480.20" y="432.20" font-size="11.4" text-anchor="middle">Gr1/Mac1</text>
<text transform="translate(298.40 362.80) rotate(-90)" font-size="12" font-weight="bold" text-anchor="middle">% within Ly5.2</text>
<text x="268.80" y="326.80" font-size="25.2" font-weight="bold" textLength="16.0" lengthAdjust="spacingAndGlyphs">E</text>
<path d="M80.30 544.76 V529.28 M75.40 529.28 H85.20" stroke="#111" stroke-width="1.5" fill="none"/>
<path d="M93.60 536.72 V518.72 M88.70 518.72 H98.50" stroke="#111" stroke-width="1.5" fill="none"/>
<rect x="86.80" y="536.72" width="13.60" height="23.28" fill="#000" stroke="#000" stroke-width="0.60"/>
<rect x="73.80" y="544.76" width="13.00" height="15.24" fill="#cdcdcd" stroke="#111" stroke-width="1.40"/>
<path d="M126.30 554.24 V548.00 M121.40 548.00 H131.20" stroke="#111" stroke-width="1.5" fill="none"/>
<path d="M139.90 551.72 V542.96 M135.00 542.96 H144.80" stroke="#111" stroke-width="1.5" fill="none"/>
<rect x="133.00" y="551.72" width="13.80" height="8.28" fill="#000" stroke="#000" stroke-width="0.60"/>
<rect x="119.60" y="554.24" width="13.40" height="5.76" fill="#cdcdcd" stroke="#111" stroke-width="1.40"/>
<path d="M172.20 545.96 V521.72 M167.30 521.72 H177.10" stroke="#111" stroke-width="1.5" fill="none"/>
<path d="M185.40 523.52 V522.92 M180.50 522.92 H190.30" stroke="#111" stroke-width="1.5" fill="none"/>
<rect x="178.80" y="523.52" width="13.20" height="36.48" fill="#000" stroke="#000" stroke-width="0.60"/>
<rect x="165.60" y="545.96" width="13.20" height="14.04" fill="#cdcdcd" stroke="#111" stroke-width="1.40"/>
<path d="M217.95 502.52 V481.04 M213.05 481.04 H222.85" stroke="#111" stroke-width="1.5" fill="none"/>
<path d="M231.40 504.20 V469.76 M226.50 469.76 H236.30" stroke="#111" stroke-width="1.5" fill="none"/>
<rect x="224.60" y="504.20" width="13.60" height="55.80" fill="#000" stroke="#000" stroke-width="0.60"/>
<rect x="211.30" y="502.52" width="13.30" height="57.48" fill="#cdcdcd" stroke="#111" stroke-width="1.40"/>
<path d="M64.60 463.30 V560.00 H248.30" stroke="#111" stroke-width="1.6" fill="none"/>
<path d="M60.60 560.00 H64.60" stroke="#111" stroke-width="1.5"/>
<text x="56.10" y="564.10" font-size="11.4" text-anchor="end">0</text>
<path d="M60.60 536.00 H64.60" stroke="#111" stroke-width="1.5"/>
<text x="56.10" y="540.10" font-size="11.4" text-anchor="end">20</text>
<path d="M60.60 512.00 H64.60" stroke="#111" stroke-width="1.5"/>
<text x="56.10" y="516.10" font-size="11.4" text-anchor="end">40</text>
<path d="M60.60 488.00 H64.60" stroke="#111" stroke-width="1.5"/>
<text x="56.10" y="492.10" font-size="11.4" text-anchor="end">60</text>
<path d="M60.60 464.00 H64.60" stroke="#111" stroke-width="1.5"/>
<text x="56.10" y="468.10" font-size="11.4" text-anchor="end">80</text>
<text x="87.20" y="582.40" font-size="11.4" text-anchor="middle">5000</text>
<text x="133.70" y="582.40" font-size="11.4" text-anchor="middle">10000</text>
<text x="178.50" y="582.40" font-size="11.4" text-anchor="middle">25000</text>
<text x="224.60" y="582.40" font-size="11.4" text-anchor="middle">50000</text>
<text transform="translate(35.20 512.30) rotate(-90)" font-size="12" font-weight="bold" text-anchor="middle">% Ly5.2+ cells</text>
<text x="0.40" y="476.80" font-size="25.2" font-weight="bold" textLength="14.7" lengthAdjust="spacingAndGlyphs">F</text>
</svg>
</body></html>
